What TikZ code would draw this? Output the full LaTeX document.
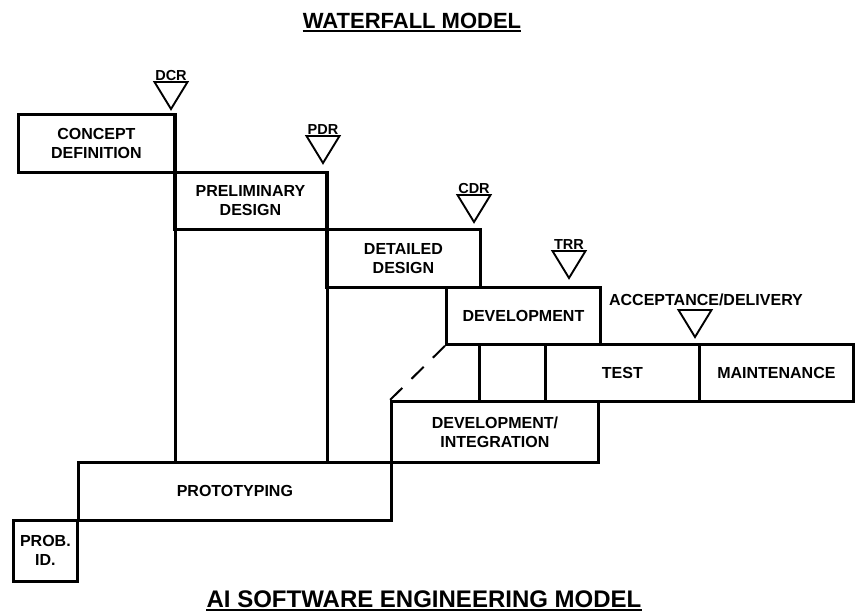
\documentclass[tikz,border=0pt]{standalone}
\usepackage{fontspec}
\setmainfont{Liberation Sans}
\newcommand\wfboxfont{\bfseries\fontsize{16}{19}\selectfont}
\newcommand\wfmsfont{\bfseries\fontsize{14.5}{16}\selectfont}
\newcommand\wftitleA{\bfseries\fontsize{22}{26}\selectfont}
\newcommand\wftitleB{\bfseries\fontsize{24}{28}\selectfont}
\begin{document}
\begin{tikzpicture}[x=1pt,y=-1pt,
  box/.style={draw, line width=2.8pt, inner sep=0pt, anchor=north west, align=center, font=\wfboxfont},
  ms/.style={draw, line width=1.9pt, line join=miter},
  mslabel/.style={font=\wfmsfont, anchor=base, inner sep=0pt},
  title/.style={anchor=base, inner sep=0pt},
  uline/.style={line width=1.7pt}]
\useasboundingbox (0,0) rectangle (856,614);

% titles
\node[title, font=\wftitleA] (t1) at (412,28) {WATERFALL MODEL};
\draw[uline] ([yshift=-3pt]t1.base west) -- ([yshift=-3pt]t1.base east);
\node[title, font=\wftitleB] (t2) at (424,607) {AI SOFTWARE ENGINEERING MODEL};
\draw[uline] ([yshift=-3pt]t2.base west) -- ([yshift=-3pt]t2.base east);

% boxes
\node[box, minimum width=156, minimum height=58] (concept) at (17,113) {CONCEPT\\DEFINITION};
\node[box, minimum width=152, minimum height=57] (prelim) at (173,171) {PRELIMINARY\\DESIGN};
\node[box, minimum width=154, minimum height=58] (detail) at (325,228) {DETAILED\\DESIGN};
\node[box, minimum width=154, minimum height=57] (dev) at (445,286) {DEVELOPMENT};
\node[box, minimum width=66, minimum height=57] (cellA) at (478,343) {};
\node[box, minimum width=154, minimum height=57] (test) at (544,343) {TEST};
\node[box, minimum width=154, minimum height=57] (maint) at (698,343) {MAINTENANCE};
\node[box, minimum width=207, minimum height=61] (devint) at (390,400) {DEVELOPMENT/\\INTEGRATION};
\node[box, minimum width=313, minimum height=58] (proto) at (77,461) {PROTOTYPING};
\node[box, minimum width=64, minimum height=61] (probid) at (12,519) {PROB.\\ID.};

% long verticals
\draw[line width=2.8pt] (concept.north east) -- (concept.north east |- proto.north);
\draw[line width=2.8pt] (prelim.north east) -- (prelim.north east |- proto.north);

% dashed link
\draw[line width=2pt, dash pattern=on 17pt off 13pt] (dev.south west) -- (devint.north west);

% milestones
\coordinate (dcrT) at (171,109);
\coordinate (pdrT) at (323,163);
\coordinate (cdrT) at (474,222);
\coordinate (trrT) at (569,278);
\coordinate (accT) at (695,337);
\foreach \m in {dcrT,pdrT,cdrT,trrT,accT}{
  \draw[ms] (\m) -- ++(-16.5,-27) -- ++(33,0) -- cycle;
}
\node[mslabel] (dcr) at ([yshift=29pt]dcrT) {DCR};
\node[mslabel] (pdr) at ([yshift=29pt]pdrT) {PDR};
\node[mslabel] (cdr) at ([yshift=29pt]cdrT) {CDR};
\node[mslabel] (trr) at ([yshift=29pt]trrT) {TRR};
\node[font=\wfboxfont, inner sep=0pt] (acc) at (706,300) {ACCEPTANCE/DELIVERY};
\end{tikzpicture}
\end{document}
